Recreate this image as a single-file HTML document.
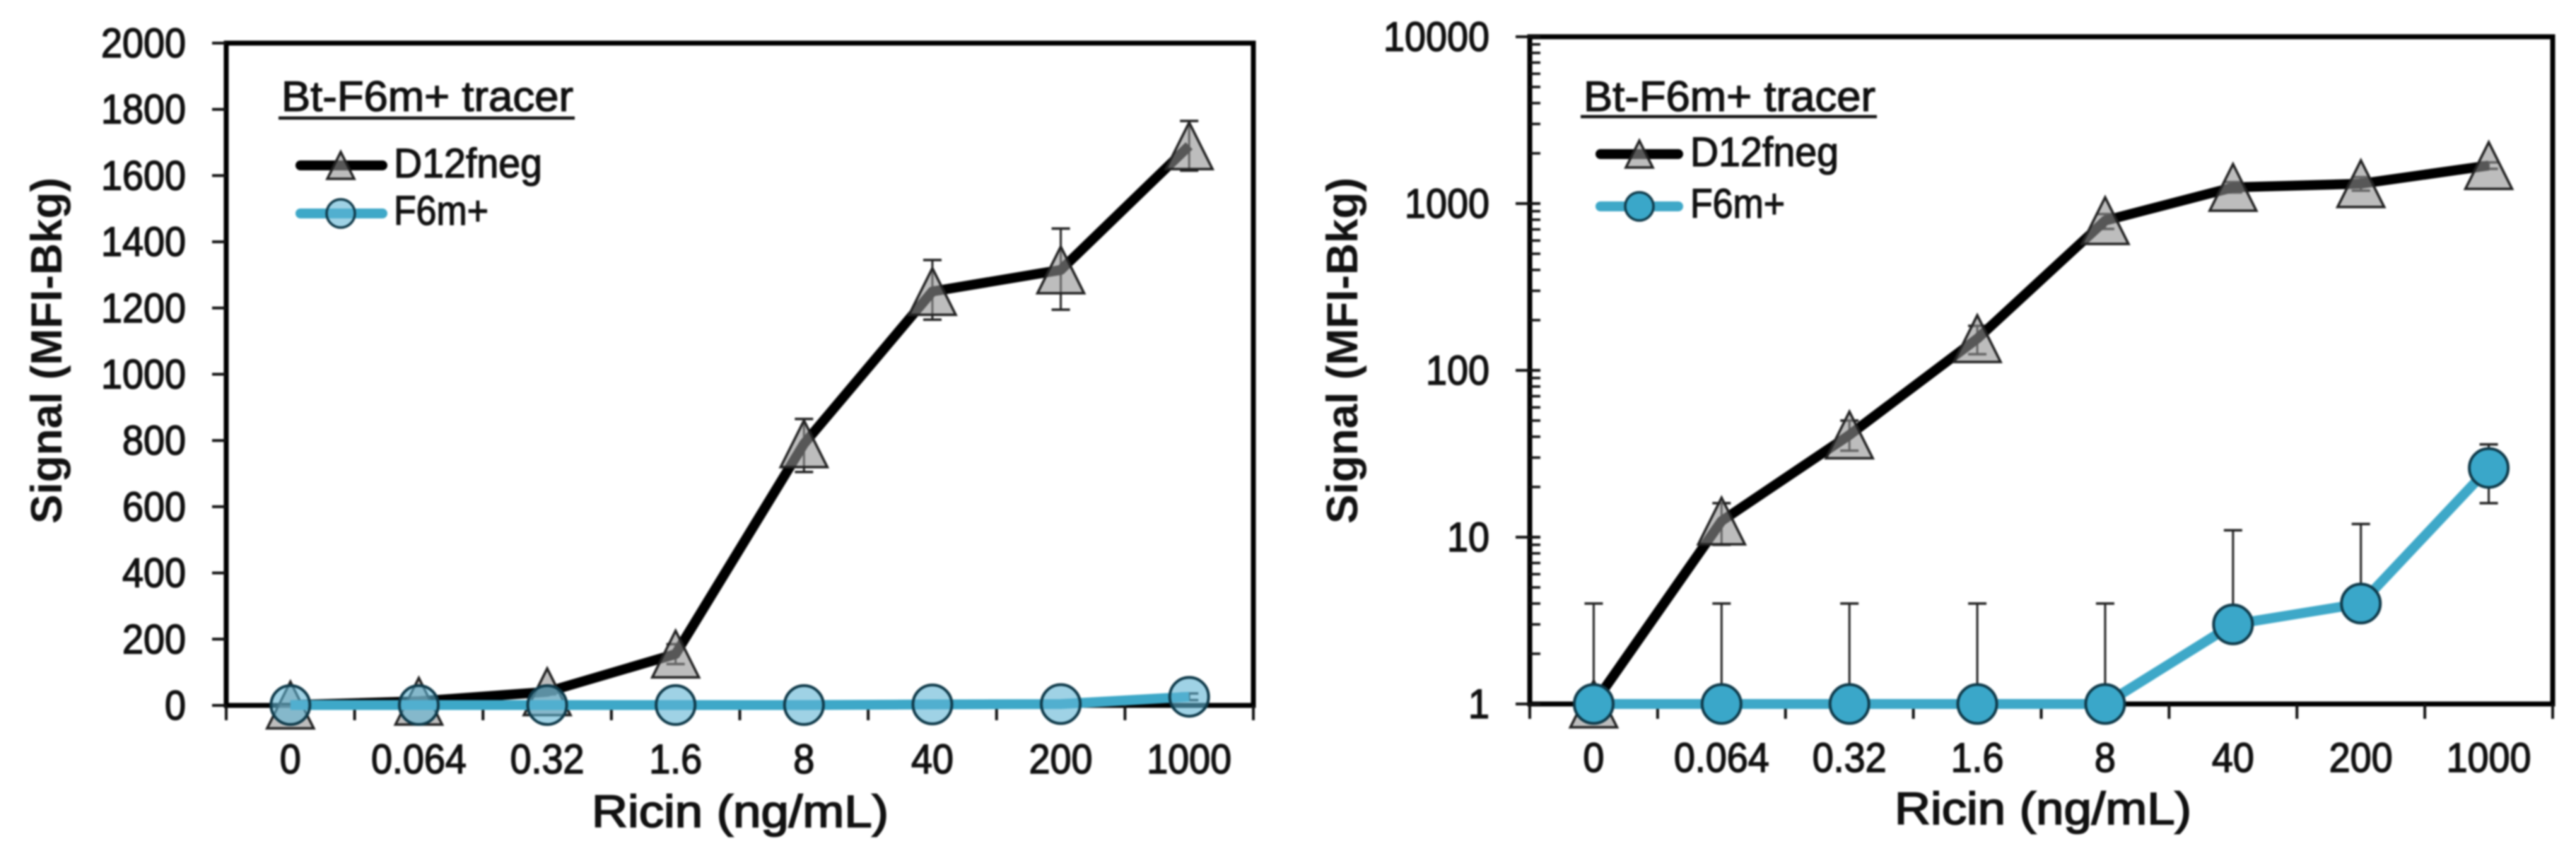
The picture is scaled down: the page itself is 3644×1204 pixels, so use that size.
<!DOCTYPE html>
<html lang="en">
<head>
<meta charset="utf-8">
<title>Ricin signal charts</title>
<style>
html,body{margin:0;padding:0;background:#fff;width:3644px;height:1204px;overflow:hidden}
svg{display:block;filter:blur(1.4px)}
text{font-family:"Liberation Sans",sans-serif;fill:#111}
</style>
</head>
<body>
<svg id="figure" xmlns="http://www.w3.org/2000/svg" width="3644" height="1204" viewBox="0 0 3644 1204">
<rect x="0" y="0" width="3644" height="1204" fill="#fff"/>
</svg>
<script>
const categories = ['0','0.064','0.32','1.6','8','40','200','1000'];
const d12Values = [1,12.5,41,155,790,1250,1315,1690];
const d12Upper = [1,16,50,185,865,1345,1440,1765];
const d12Lower = [1,9,33,125,705,1165,1195,1615];
const f6Values = [1,1,1,1,1,3,4,26];
const f6Upper = [4,4,4,4,4,11,12,36];
const f6Lower = [1,1,1,1,1,3,4,16];
const linearTicks = [0,200,400,600,800,1000,1200,1400,1600,1800,2000];
const logTicks = [1,10,100,1000,10000];
const logMinorFactors = [2,3,4,5,6,7,8,9];
const xTitle = 'Ricin  (ng/mL)';
const yTitle = 'Signal (MFI-Bkg)';
const legendTitle = 'Bt-F6m+ tracer';
const legendD12 = 'D12fneg';
const legendF6 = 'F6m+';

const NS = 'http://www.w3.org/2000/svg';
const root = document.getElementById('figure');

function make(tag, attrs, parent, content) {
  const n = document.createElementNS(NS, tag);
  for (const k in attrs) n.setAttribute(k, attrs[k]);
  if (content !== undefined) n.textContent = content;
  parent.appendChild(n);
  return n;
}
function triPoints(cx, cy, hw, hh) {
  return (cx - hw) + ',' + (cy + hh) + ' ' + cx + ',' + (cy - hh) + ' ' + (cx + hw) + ',' + (cy + hh);
}
function condense(t, ratio) {
  t.setAttribute('textLength', t.getComputedTextLength() * ratio);
  t.setAttribute('lengthAdjust', 'spacingAndGlyphs');
}

function drawChart(cfg) {
  const g = make('g', {}, root);
  
  

  const n = categories.length;
  const step = (cfg.right - cfg.left) / n;
  const xPos = i => cfg.left + step * (i + 0.5);
  const yPos = cfg.log
    ? v => cfg.bottom - (Math.log10(v) / 4) * (cfg.bottom - cfg.top)
    : v => cfg.bottom - (v / 2000) * (cfg.bottom - cfg.top);

  const frame = make('rect', {x: cfg.left, y: cfg.top, width: cfg.right - cfg.left, height: cfg.bottom - cfg.top, fill: 'none', stroke: '#000', 'stroke-width': 7}, g);
  
  

  for (let i = 0; i <= n; i++) {
    const tx = cfg.left + step * i;
    const t = make('line', {x1: tx, x2: tx, y1: cfg.bottom, y2: cfg.bottom + 21, stroke: '#111', 'stroke-width': 4}, g);
    
    
  }
  categories.forEach((c, i) => {
    const t = make('text', {x: xPos(i), y: cfg.bottom + 96, 'text-anchor': 'middle', 'font-size': 58, stroke: '#111', 'stroke-width': 1.5}, g, c);
    
    
    condense(t, 0.93);
  });

  cfg.ticks.forEach(v => {
    const py = yPos(v);
    const t = make('line', {x1: cfg.left - 20, x2: cfg.log ? cfg.left + 15 : cfg.left, y1: py, y2: py, stroke: '#111', 'stroke-width': 4}, g);
    
    
    const l = make('text', {x: cfg.labelRight, y: py + 20, 'text-anchor': 'end', 'font-size': 58, stroke: '#111', 'stroke-width': 1.5}, g, String(v));
    
    
    condense(l, 0.93);
    if (cfg.log && v < 10000) {
      logMinorFactors.forEach(f => {
        const my = yPos(v * f);
        const m = make('line', {x1: cfg.left, x2: cfg.left + 15, y1: my, y2: my, stroke: '#111', 'stroke-width': 3.5}, g);
        
        
      });
    }
  });

  const xt = make('text', {x: cfg.xTitleX, y: cfg.xTitleY, 'font-size': 64, stroke: '#111', 'stroke-width': 1.8, textLength: 420, lengthAdjust: 'spacingAndGlyphs', 'xml:space': 'preserve'}, g, xTitle);
  
  

  const yt = make('text', {transform: 'translate(' + cfg.yTitleX + ',' + 741 + ') rotate(-90)', 'font-size': 62, 'font-weight': 'bold', textLength: 490, lengthAdjust: 'spacingAndGlyphs'}, g, yTitle);
  
  

  const drawErr = (uppers, lowers, nameStr) => {
    uppers.forEach((u, i) => {
      const x = xPos(i), yu = yPos(u), yl = yPos(lowers[i]);
      const s = make('line', {x1: x, x2: x, y1: yu, y2: yl, stroke: '#222', 'stroke-width': 3}, g);
      
      
      const c1 = make('line', {x1: x - 13, x2: x + 13, y1: yu, y2: yu, stroke: '#222', 'stroke-width': 3.5}, g);
      
      
      const c2 = make('line', {x1: x - 13, x2: x + 13, y1: yl, y2: yl, stroke: '#222', 'stroke-width': 3.5, opacity: lowers[i] === f6Values[i] && uppers === f6Upper ? 0 : 1}, g);
      
      
    });
  };
  drawErr(d12Upper, d12Lower, 'd12fneg-error-bar');

  const d12Line = make('polyline', {points: d12Values.map((v, i) => xPos(i) + ',' + yPos(v)).join(' '), fill: 'none', stroke: '#000', 'stroke-width': 14, 'stroke-linejoin': 'round'}, g);
  
  

  d12Values.forEach((v, i) => {
    const t = make('polygon', {points: triPoints(xPos(i), yPos(v), 33, 33), fill: 'rgb(145,145,145)', 'fill-opacity': 0.6, stroke: '#222', 'stroke-width': 3.5, 'stroke-linejoin': 'miter'}, g);
    
    
  });

  drawErr(f6Upper, f6Lower, 'f6m-error-bar');

  const f6Line = make('polyline', {points: f6Values.map((v, i) => xPos(i) + ',' + yPos(v)).join(' '), fill: 'none', stroke: '#3ea8c8', 'stroke-width': 14, 'stroke-linejoin': 'round'}, g);
  
  

  f6Values.forEach((v, i) => {
    const c = make('circle', {cx: xPos(i), cy: yPos(v), r: 27.5, fill: cfg.circleFill, 'fill-opacity': cfg.circleOpacity, stroke: '#0f3a4a', 'stroke-width': 4}, g);
    
    
  });

  const L = cfg.legend;
  const lg = make('g', {}, g);
  
  
  const lt = make('text', {x: L.titleX, y: 157, 'font-size': 60, stroke: '#111', 'stroke-width': 1.3, textLength: 413, lengthAdjust: 'spacingAndGlyphs'}, lg, legendTitle);
  
  
  const lu = make('line', {x1: L.titleX - 4, x2: L.titleX + 415, y1: L.underY, y2: L.underY, stroke: '#111', 'stroke-width': 4.5}, lg);
  
  

  const l1 = make('line', {x1: L.x1 + 6, x2: L.x2 - 6, y1: L.y1, y2: L.y1, stroke: '#000', 'stroke-width': 14, 'stroke-linecap': 'round'}, lg);
  
  
  const m1 = make('polygon', {points: triPoints(L.cx, L.y1, 19, 19), fill: 'rgb(145,145,145)', 'fill-opacity': 0.6, stroke: '#222', 'stroke-width': 3.5}, lg);
  
  
  const t1 = make('text', {x: L.textX, y: L.y1 + 17, 'font-size': 58, stroke: '#111', 'stroke-width': 1.3, textLength: 210, lengthAdjust: 'spacingAndGlyphs'}, lg, legendD12);
  
  

  const l2 = make('line', {x1: L.x1 + 6, x2: L.x2 - 6, y1: L.y2, y2: L.y2, stroke: '#3ea8c8', 'stroke-width': 14, 'stroke-linecap': 'round'}, lg);
  
  
  const m2 = make('circle', {cx: L.cx, cy: L.y2, r: 20, fill: cfg.circleFill, 'fill-opacity': cfg.circleOpacity, stroke: '#0f3a4a', 'stroke-width': 3.5}, lg);
  
  
  const t2 = make('text', {x: L.textX, y: L.y2 + 16, 'font-size': 58, stroke: '#111', 'stroke-width': 1.3, textLength: 134, lengthAdjust: 'spacingAndGlyphs'}, lg, legendF6);
  
  
}

drawChart({
  name: 'linear-chart', log: false, left: 320, right: 1773, top: 61, bottom: 998,
  ticks: linearTicks, labelRight: 263, xTitleX: 837, xTitleY: 1170, yTitleX: 87,
  circleFill: 'rgb(95,180,212)', circleOpacity: 0.6,
  legend: {titleX: 398, underY: 167, x1: 419, x2: 547, cx: 482, y1: 234, y2: 302, textX: 557}
});
drawChart({
  name: 'log-chart', log: true, left: 2164, right: 3611, top: 52, bottom: 996,
  ticks: logTicks, labelRight: 2107, xTitleX: 2680, xTitleY: 1166, yTitleX: 1920,
  circleFill: 'rgb(58,167,201)', circleOpacity: 1,
  legend: {titleX: 2240, underY: 165, x1: 2258, x2: 2380, cx: 2319, y1: 218, y2: 292, textX: 2391}
});
</script>
</body>
</html>
